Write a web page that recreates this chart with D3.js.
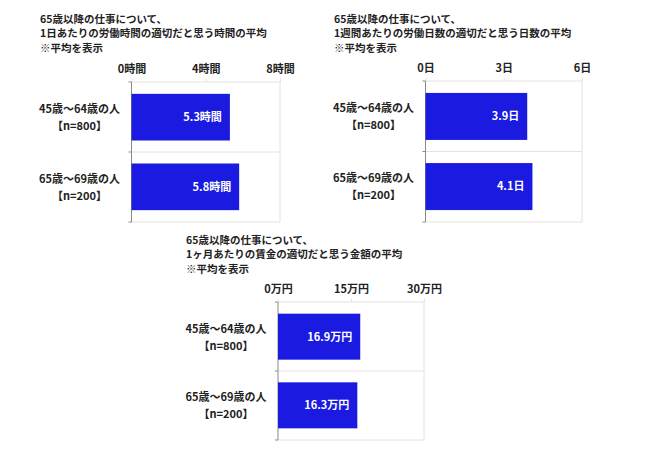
<!DOCTYPE html>
<html>
  <head>
    <meta charset="utf-8" />
    <style>
      body {
        margin: 0;
        background: #fff;
      }
      text {
        font-family: "Noto Sans CJK JP", sans-serif;
        font-weight: bold;
      }
    </style>
    <script src="https://d3js.org/d3.v7.min.js"></script>
  </head>
  <body>
    <div id="chart"></div>
    <script type="text/javascript">
      // categories shared by the three panels
      var categories = ["45歳～64歳の人", "65歳～69歳の人"];
      var sampleSizes = ["【n=800】", "【n=200】"];

      // panel 1 : hours per day
      var hoursTitle = ["65歳以降の仕事について、", "1日あたりの労働時間の適切だと思う時間の平均", "※平均を表示"];
      var hoursValues = [5.3, 5.8];
      var hoursTicks = [0, 4, 8];
      var hoursUnit = "時間";

      // panel 2 : days per week
      var daysTitle = ["65歳以降の仕事について、", "1週間あたりの労働日数の適切だと思う日数の平均", "※平均を表示"];
      var daysValues = [3.9, 4.1];
      var daysTicks = [0, 3, 6];
      var daysUnit = "日";

      // panel 3 : wage per month
      var wageTitle = ["65歳以降の仕事について、", "1ヶ月あたりの賃金の適切だと思う金額の平均", "※平均を表示"];
      var wageValues = [16.9, 16.3];
      var wageTicks = [0, 15, 30];
      var wageUnit = "万円";

      var w = 646;
      var h = 456;
      var barColor = "#1a1ae0";

      var svg = d3
        .select("#chart")
        .append("svg")
        .attr("width", w)
        .attr("height", h);

      function drawPanel(opt) {
        var g = svg.append("g");

        // title block
        g.selectAll("text.title")
          .data(opt.title)
          .enter()
          .append("text")
          .attr("class", "title")
          .attr("x", opt.titleX)
          .attr("y", function (d, i) {
            return opt.titleY + i * 14.5;
          })
          .attr("dy", ".35em")
          .attr("font-size", 10.5)
          .attr("fill", "#222")
          .text(function (d) {
            return d;
          });

        var x = d3
          .scaleLinear()
          .domain([0, d3.max(opt.ticks)])
          .range([opt.left, opt.right]);

        var y = d3
          .scaleBand()
          .domain(categories)
          .range([opt.top, opt.bottom])
          .paddingInner(0.33)
          .paddingOuter(0.17);

        var step = y.step();

        // plot frame (top, right, bottom, separators)
        g.selectAll("line.sep")
          .data(d3.range(categories.length + 1))
          .enter()
          .append("line")
          .attr("class", "sep")
          .attr("x1", opt.left)
          .attr("x2", opt.right)
          .attr("y1", function (i) {
            return opt.top + i * ((opt.bottom - opt.top) / categories.length);
          })
          .attr("y2", function (i) {
            return opt.top + i * ((opt.bottom - opt.top) / categories.length);
          })
          .attr("stroke", "#e2e2e2")
          .attr("stroke-width", 1);

        g.append("line")
          .attr("x1", opt.right)
          .attr("x2", opt.right)
          .attr("y1", opt.top)
          .attr("y2", opt.bottom)
          .attr("stroke", "#e2e2e2");

        // x axis labels on top
        var xAxis = d3
          .axisTop(x)
          .tickValues(opt.ticks)
          .tickSize(3)
          .tickFormat(function (d) {
            return d + opt.unit;
          });

        var ax = g
          .append("g")
          .attr("transform", "translate(0," + opt.top + ")")
          .call(xAxis);
        ax.select(".domain").remove();
        ax.selectAll(".tick line").attr("stroke", "#e2e2e2");
        ax.selectAll(".tick text")
          .attr("font-size", 11)
          .attr("font-family", "Noto Sans CJK JP")
          .attr("font-weight", "bold")
          .attr("fill", "#222")
          .attr("y", -9);

        // left axis with ticks at band edges
        var bandEdges = d3.range(categories.length + 1).map(function (i) {
          return opt.top + i * ((opt.bottom - opt.top) / categories.length);
        });

        g.append("line")
          .attr("x1", opt.left)
          .attr("x2", opt.left)
          .attr("y1", opt.top)
          .attr("y2", opt.bottom)
          .attr("stroke", "#8a8a8a");

        g.selectAll("line.ltick")
          .data(bandEdges)
          .enter()
          .append("line")
          .attr("class", "ltick")
          .attr("x1", opt.left - 3)
          .attr("x2", opt.left)
          .attr("y1", function (d) {
            return d;
          })
          .attr("y2", function (d) {
            return d;
          })
          .attr("stroke", "#8a8a8a");

        // bars
        g.selectAll("rect.bar")
          .data(opt.values)
          .enter()
          .append("rect")
          .attr("class", "bar")
          .attr("x", x(0))
          .attr("y", function (d, i) {
            return y(categories[i]);
          })
          .attr("width", function (d) {
            return x(d) - x(0);
          })
          .attr("height", y.bandwidth())
          .attr("fill", barColor);

        // value labels inside the bars
        g.selectAll("text.val")
          .data(opt.values)
          .enter()
          .append("text")
          .attr("class", "val")
          .attr("x", function (d) {
            return x(d) - 8;
          })
          .attr("y", function (d, i) {
            return y(categories[i]) + y.bandwidth() / 2;
          })
          .attr("dy", ".35em")
          .attr("text-anchor", "end")
          .attr("font-size", 11)
          .attr("fill", "#fff")
          .text(function (d) {
            return d.toFixed(1) + opt.unit;
          });

        // category labels (two lines)
        categories.forEach(function (c, i) {
          var cy = y(c) + y.bandwidth() / 2;
          var t = g
            .append("text")
            .attr("x", opt.left - 52)
            .attr("text-anchor", "middle")
            .attr("font-size", 11)
            .attr("fill", "#222");
          t.append("tspan")
            .attr("x", opt.left - 52)
            .attr("y", cy - 8)
            .attr("dy", ".35em")
            .text(c);
          t.append("tspan")
            .attr("x", opt.left - 52)
            .attr("y", cy + 9)
            .attr("dy", ".35em")
            .text(sampleSizes[i]);
        });
      }

      drawPanel({
        title: hoursTitle,
        titleX: 40,
        titleY: 19,
        values: hoursValues,
        ticks: hoursTicks,
        unit: hoursUnit,
        left: 131.5,
        right: 280,
        top: 82,
        bottom: 222,
      });

      drawPanel({
        title: daysTitle,
        titleX: 334,
        titleY: 19,
        values: daysValues,
        ticks: daysTicks,
        unit: daysUnit,
        left: 425.5,
        right: 582,
        top: 81,
        bottom: 222,
      });

      drawPanel({
        title: wageTitle,
        titleX: 186,
        titleY: 240,
        values: wageValues,
        ticks: wageTicks,
        unit: wageUnit,
        left: 278,
        right: 424,
        top: 302,
        bottom: 440,
      });
    </script>
  </body>
</html>
